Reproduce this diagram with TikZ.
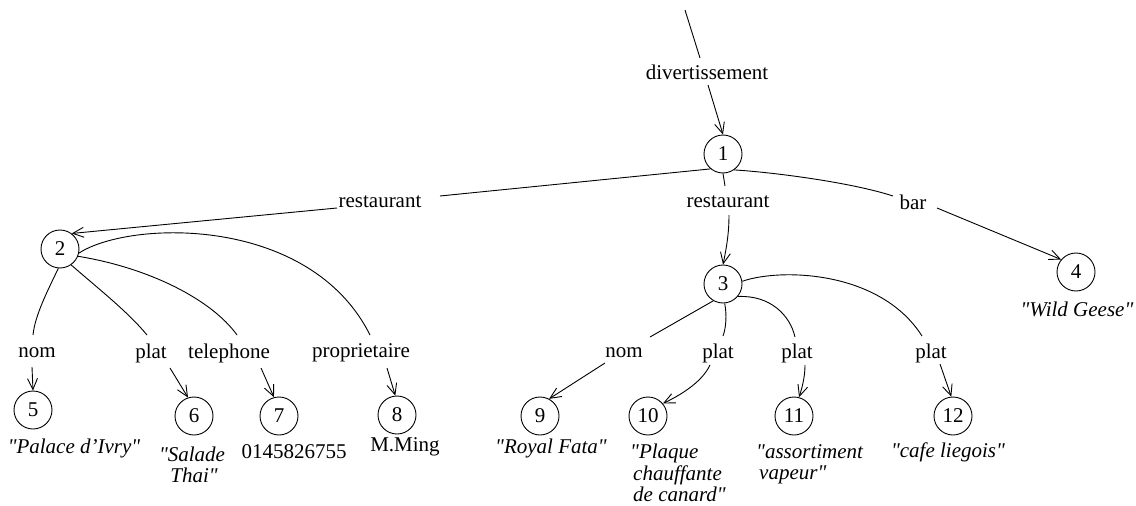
\documentclass[tikz,border=0pt]{standalone}
\usepackage{fontspec}
\setmainfont{Liberation Serif}[Ligatures=TeXOff]
\usetikzlibrary{arrows.meta,calc}
\begin{document}
\begin{tikzpicture}[x=1pt,y=-1pt,
  every node/.style={font=\fontsize{21}{21}\selectfont},
  vert/.style={draw,circle,minimum size=38pt,inner sep=0pt,line width=0.9pt},
  lab/.style={inner sep=0pt},
  val/.style={inner sep=0pt,font=\fontsize{21}{21.5}\selectfont\itshape},
  edge/.style={line width=0.9pt},
  arr/.style={line width=0.9pt,-{Straight Barb[length=11pt,width=10pt]}}]
\useasboundingbox (0,0) rectangle (1136,506);

% vertices
\coordinate (top) at (685,10);
\node[vert] (n1) at (723,154) {1};
\node[vert] (n2) at (60,249) {2};
\node[vert] (n3) at (723,284) {3};
\node[vert] (n4) at (1076,272) {4};
\node[vert] (n5) at (33,410) {5};
\node[vert] (n6) at (194,416) {6};
\node[vert] (n7) at (279,416) {7};
\node[vert] (n8) at (397,415) {8};
\node[vert] (n9) at (540,416) {9};
\node[vert] (n10) at (648,416) {10};
\node[vert] (n11) at (794,416) {11};
\node[vert] (n12) at (953,416) {12};

% edge labels
\node[lab] (lDiv) at (707,72) {divertissement};
\node[lab] (lRL) at (380,202) {restaurant};
\node[lab] (lRM) at (728,202) {restaurant};
\node[lab] (lBar) at (913,202) {bar};
\node[lab] (lNomL) at (37,353) {nom};
\node[lab] (lPlatL) at (151,353) {plat};
\node[lab] (lTel) at (229,353) {telephone};
\node[lab] (lProp) at (361,353) {proprietaire};
\node[lab] (lNomM) at (624,353) {nom};
\node[lab] (lPlat2) at (718,353) {plat};
\node[lab] (lPlat3) at (797,353) {plat};
\node[lab] (lPlat4) at (931,353) {plat};

% values
\node[val] (v4) at (1077,309) {"Wild Geese"};
\node[val] (v5) at (74,448) {"Palace d’Ivry"};
\node[val,align=center] (v6) at (192,465) {"Salade\\\hspace*{4pt}Thai"};
\node[lab] (v7) at (294,452) {0145826755};
\node[lab] (v8) at (405,447) {M.Ming};
\node[val] (v9) at (551,448) {"Royal Fata"};
\node[val,align=left,anchor=north west] (v10) at (630,444) {"Plaque\\\hspace*{3pt}chauffante\\\hspace*{3pt}de canard"};
\node[val,align=left,anchor=north west] (v11) at (756,444) {"assortiment\\\hspace*{3pt}vapeur"};
\node[val] (v12) at (948,452) {"cafe liegois"};

% edges
\draw[edge] (top) -- ($(lDiv)+(-7,-14)$);
\draw[arr] ($(lDiv)+(1,13)$) -- (n1.north);

\draw[edge] (n1.230) -- ($(lRL)+(60,-6)$);
\draw[arr] ($(lRL)+(-43,6)$) -- (n2.53);

\draw[edge] (n1.south) -- ($(lRM)+(-3,-16)$);
\draw[arr] ($(lRM)+(1,13)$) .. controls ($(lRM)+(1,33)$) and ($(lRM)+(-2,48)$) .. (n3.north);

\draw[edge] (n1.305) .. controls (770,172) and (850,182) .. ($(lBar)+(-20,-6)$);
\draw[arr] ($(lBar)+(24,6)$) -- (n4.140);

\draw[edge] (n2.265) .. controls (48,290) and (35,315) .. ($(lNomL)+(-4,-18)$);
\draw[arr] ($(lNomL)+(-5,14)$) -- (n5.north);

\draw[edge] (n2.-55) .. controls (100,290) and (128,312) .. ($(lPlatL)+(-4,-18)$);
\draw[arr] ($(lPlatL)+(19,15)$) -- (n6.108);

\draw[edge] (n2.-22) .. controls (150,268) and (212,300) .. ($(lTel)+(8,-18)$);
\draw[arr] ($(lTel)+(32,15)$) -- (n7.105);

\draw[edge] (n2.-12) .. controls (130,220) and (310,215) .. ($(lProp)+(9,-18)$);
\draw[arr] ($(lProp)+(26,15)$) -- (n8.95);

\draw[edge] (n3.240) -- ($(lNomM)+(26,-16)$);
\draw[arr] ($(lNomM)+(-19,10)$) -- (n9.62);

\draw[edge] (n3.-85) .. controls (727,315) and (726,328) .. ($(lPlat2)+(5,-17)$);
\draw[arr] ($(lPlat2)+(-8,12)$) .. controls (703,380) and (685,393) .. (n10.40);

\draw[edge] (n3.-40) .. controls (770,295) and (790,315) .. ($(lPlat3)+(-2,-16)$);
\draw[arr] ($(lPlat3)+(8,12)$) .. controls (805,375) and (803,385) .. (n11.75);

\draw[edge] (n3.8) .. controls (780,268) and (880,270) .. ($(lPlat4)+(-9,-17)$);
\draw[arr] ($(lPlat4)+(9,11)$) -- (n12.95);
\end{tikzpicture}
\end{document}
